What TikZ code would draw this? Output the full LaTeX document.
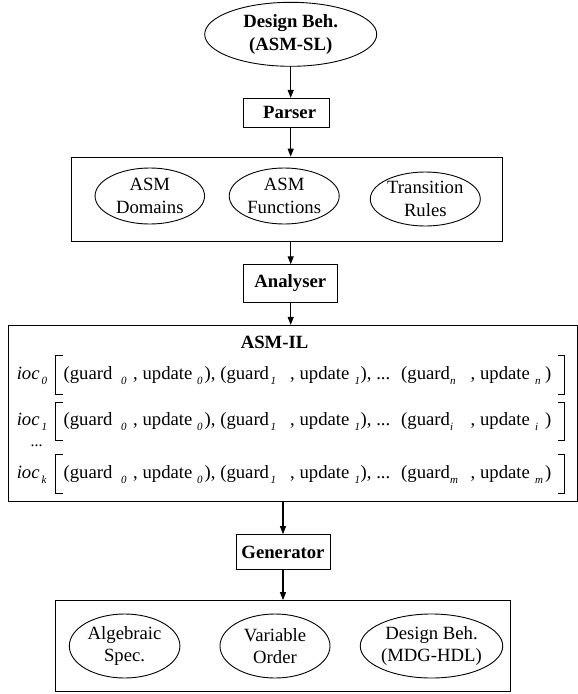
\documentclass[tikz,border=0pt]{standalone}
\usepackage{fontspec}
\setmainfont{Liberation Serif}
\usetikzlibrary{arrows.meta,shapes.geometric}

\tikzset{
  lbl/.style={font=\fontsize{18.7}{22.5}\selectfont, align=center},
  oval/.style={ellipse, draw, line width=0.9pt, inner sep=0pt, lbl},
  stage/.style={rectangle, draw, line width=0.9pt, inner sep=0pt, align=center,
                font=\fontsize{18.7}{22.5}\selectfont\bfseries},
  frame/.style={rectangle, draw, line width=0.9pt, inner sep=0pt},
  arr/.style={-{Triangle[length=8pt,width=6pt]}, line width=1.1pt},
  piece/.style={anchor=base west, inner sep=0pt, font=\fontsize{18.7}{22.5}\selectfont},
  subpiece/.style={anchor=base west, inner sep=0pt, font=\fontsize{11}{13}\selectfont\itshape},
  bracket/.style={line width=0.9pt},
}

% one line of the intermediate language: name, baseline, ioc index, last index
\newcommand{\ilrow}[4]{%
  \node[piece] (#1-ioc) at (16.6,#2) {\itshape ioc};
  \node[subpiece] (#1-iocs) at (41.5,#2+5) {#3};
  \draw[bracket] (62.7,#2-23.5) -| (55.3,#2+15) -- (62.7,#2+15);
  \node[piece] (#1-g0) at (63.4,#2) {(guard};
  \node[subpiece] (#1-g0s) at (121,#2+5) {0};
  \node[piece] (#1-u0) at (133,#2) {, update};
  \node[subpiece] (#1-u0s) at (197,#2+5) {0};
  \node[piece] (#1-g1) at (204.5,#2) {), (guard};
  \node[subpiece] (#1-g1s) at (270.5,#2+5) {1};
  \node[piece] (#1-u1) at (290,#2) {, update};
  \node[subpiece] (#1-u1s) at (354.5,#2+5) {1};
  \node[piece] (#1-dots) at (360.5,#2) {), ...};
  \node[piece] (#1-gn) at (401,#2) {(guard};
  \node[subpiece] (#1-gns) at (450,#2+5) {#4};
  \node[piece] (#1-un) at (470.5,#2) {, update};
  \node[subpiece] (#1-uns) at (535,#2+5) {#4};
  \node[piece] (#1-end) at (545,#2) {)};
  \draw[bracket] (558.4,#2-23.5) -| (564.7,#2+15) -- (558.4,#2+15);
}

\begin{document}
\begin{tikzpicture}[x=1pt,y=-1pt]
  \useasboundingbox (0,0) rectangle (578,694);

  % source description
  \node[oval, font=\fontsize{18.7}{22.5}\selectfont\bfseries,
        minimum width=172pt, minimum height=64pt] (src) at (290.7,34.3)
        {Design Beh.\\(ASM-SL)};

  \node[stage, minimum width=86.6pt, minimum height=29.2pt] (parser) at (286.6,112.9)
        {\hspace*{6pt}Parser};

  % parsed structures
  \node[frame, minimum width=431.3pt, minimum height=84.1pt] (parsed) at (286.75,199.15) {};
  \node[oval, minimum width=109.5pt, minimum height=56pt] (dom) at (149.8,196) {ASM\\Domains};
  \node[oval, minimum width=110pt, minimum height=56pt] (fun) at (284.2,196) {ASM\\Functions};
  \node[oval, minimum width=110pt, minimum height=54pt] (rules) at (425.3,199) {Transition\\Rules};

  \node[stage, minimum width=94pt, minimum height=37.6pt] (analyser) at (290.3,283.5) {Analyser};

  % intermediate language
  \node[frame, minimum width=569.4pt, minimum height=175.7pt] (il) at (292.8,413.15) {};
  \node[stage, draw=none] (iltitle) at (274.6,342) {ASM-IL};
  \ilrow{r0}{379}{0}{n}
  \ilrow{r1}{425.5}{1}{i}
  \node[piece, font=\fontsize{16}{18}\selectfont] (vdots) at (30.5,446) {...};
  \ilrow{rk}{478}{k}{m}

  \node[stage, minimum width=94pt, minimum height=35pt] (gen) at (283,552.15) {Generator};

  % generated outputs
  \node[frame, minimum width=455.2pt, minimum height=90.7pt] (out) at (282.9,645.95) {};
  \node[oval, minimum width=110.6pt, minimum height=64pt] (alg) at (124.6,646) {Algebraic\\Spec.};
  \node[oval, minimum width=110pt, minimum height=64pt] (var) at (275,646) {Variable\\Order};
  \node[oval, minimum width=131pt, minimum height=64pt] (mdg) at (431.5,646) {Design Beh.\\(MDG-HDL)};

  % flow
  \draw[arr] (src.south) -- (src.south |- parser.north);
  \draw[arr] (src.south |- parser.south) -- (src.south |- parsed.north);
  \draw[arr] (src.south |- parsed.south) -- (src.south |- analyser.north);
  \draw[arr] (src.south |- analyser.south) -- (src.south |- il.north);
  \draw[arr] (gen |- il.south) -- (gen.north);
  \draw[arr] (gen.south) -- (gen |- out.north);
\end{tikzpicture}
\end{document}
